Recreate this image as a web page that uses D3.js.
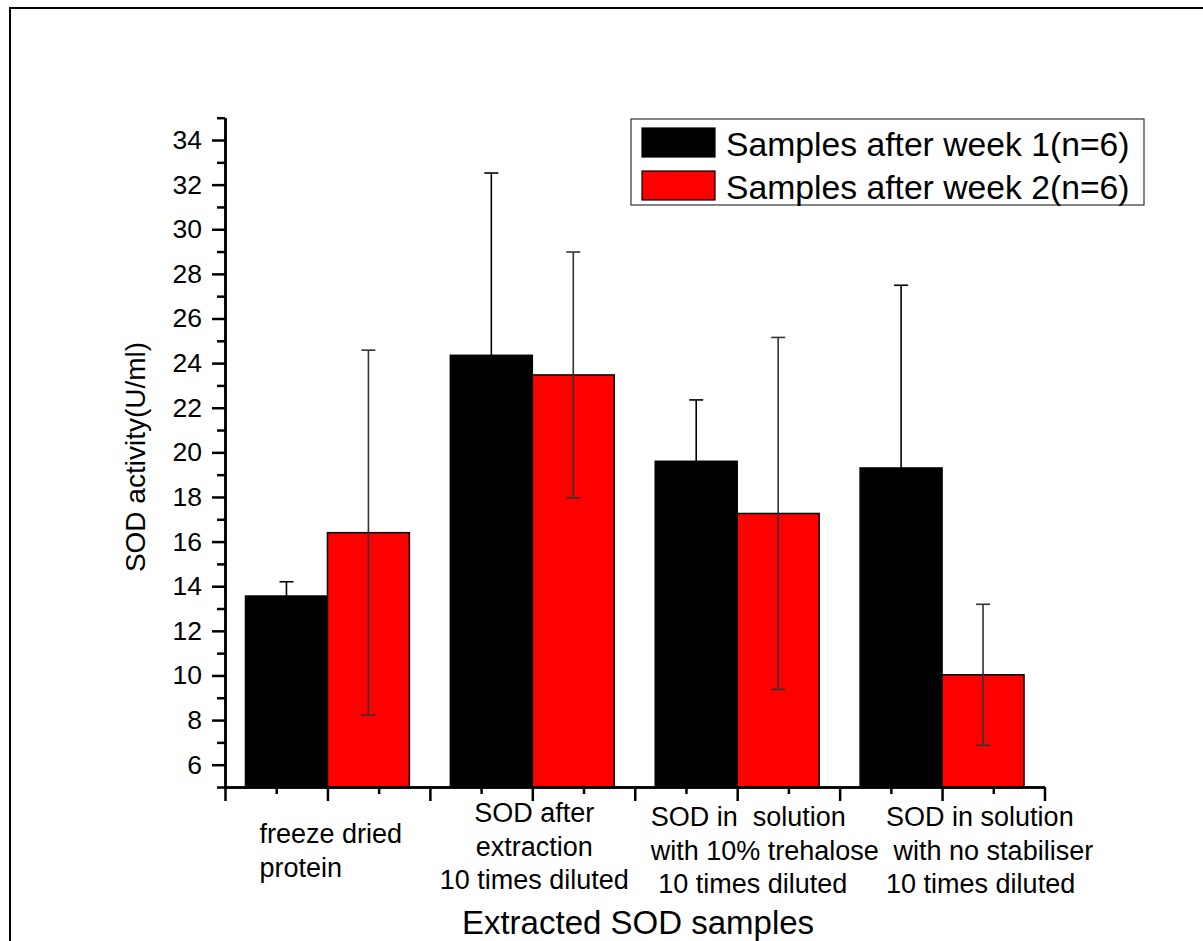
<!DOCTYPE html>
<html lang="en">
<head>
    <meta charset="UTF-8">
    <title>SOD activity</title>
    <script src="https://cdn.jsdelivr.net/npm/d3@7/dist/d3.min.js"></script>
    <style>
        body { margin: 0; background: #fff; }
        text { font-family: "Liberation Sans", Arial, sans-serif; fill: #000; }
    </style>
</head>
<body>
    <svg id="svg"></svg>
    <script>
        // data
        const categories = [
            ["freeze dried", "protein"],
            ["SOD after", "extraction", "10 times diluted"],
            ["SOD in  solution", "with 10% trehalose", " 10 times diluted"],
            ["SOD in solution", " with no stabiliser", "10 times diluted"]
        ];
        const seriesNames = ["Samples after week 1(n=6)", "Samples after week 2(n=6)"];
        const week1 = [13.56, 24.35, 19.6, 19.3];
        const week1Err = [0.64, 8.17, 2.75, 8.19];
        const week2 = [16.4, 23.47, 17.26, 10.03];
        const week2Err = [8.18, 5.51, 7.89, 3.16];
        const yTicks = d3.range(6, 35, 2);
        const yMinor = d3.range(5, 36, 2);
        const xMajor = d3.range(0.5, 4.51, 0.5);
        const xMinor = d3.range(0.75, 4.3, 0.5);

        const width = 1203;
        const height = 941;
        const colors = ["#000000", "#ff0000"];
        const errColors = ["#000000", "#333333"];
        const barW = 0.4;

        const x = d3.scaleLinear().domain([0.5, 4.5]).range([225, 1044.5]);
        const y = d3.scaleLinear().domain([5, 35]).range([787, 117.7]);

        const svg = d3.select("#svg")
            .attr("width", width)
            .attr("height", height);

        // outer frame
        svg.append("rect")
            .attr("x", 10).attr("y", 8)
            .attr("width", 1400).attr("height", 1200)
            .attr("fill", "none")
            .attr("stroke", "#000")
            .attr("stroke-width", 2);

        const series = [
            {name: seriesNames[0], values: week1, errs: week1Err, off: -barW},
            {name: seriesNames[1], values: week2, errs: week2Err, off: 0}
        ];

        const groups = svg.selectAll("g.series")
            .data(series)
            .enter()
            .append("g")
            .attr("class", "series");

        groups.selectAll("rect")
            .data(function(s, si) {
                return s.values.map(function(v, i) { return {v: v, i: i, s: s, si: si}; });
            })
            .enter()
            .append("rect")
            .attr("x", d => x(d.i + 1 + d.s.off))
            .attr("y", d => y(d.v))
            .attr("width", x(barW) - x(0))
            .attr("height", d => y(5) - y(d.v))
            .attr("fill", d => colors[d.si])
            .attr("stroke", "#000")
            .attr("stroke-width", 1.5);

        // error bars
        const errs = svg.selectAll("g.err")
            .data(series.flatMap(function(s, si) {
                return s.values.map(function(v, i) {
                    return {cx: i + 1 + s.off + barW / 2, v: v, e: s.errs[i], si: si};
                });
            }))
            .enter()
            .append("g")
            .attr("class", "err")
            .attr("stroke", d => errColors[d.si])
            .attr("stroke-width", 1.6);
        errs.append("line")
            .attr("x1", d => x(d.cx)).attr("x2", d => x(d.cx))
            .attr("y1", d => y(d.v + d.e)).attr("y2", d => y(d.v - d.e));
        errs.append("line")
            .attr("x1", d => x(d.cx) - 7).attr("x2", d => x(d.cx) + 7)
            .attr("y1", d => y(d.v + d.e)).attr("y2", d => y(d.v + d.e));
        errs.append("line")
            .attr("x1", d => x(d.cx) - 7).attr("x2", d => x(d.cx) + 7)
            .attr("y1", d => y(d.v - d.e)).attr("y2", d => y(d.v - d.e));

        // y axis
        const yAxis = svg.append("g")
            .attr("transform", "translate(" + x(0.5) + ",0)")
            .call(d3.axisLeft(y).tickValues(yTicks).tickSize(13).tickSizeOuter(0).tickPadding(10));
        svg.append("g")
            .attr("transform", "translate(" + x(0.5) + ",0)")
            .call(d3.axisLeft(y).tickValues(yMinor).tickSize(8).tickSizeOuter(0).tickFormat(""));

        // x axis
        svg.append("g")
            .attr("transform", "translate(0," + y(5) + ")")
            .call(d3.axisBottom(x).tickValues(xMajor).tickSize(14).tickSizeOuter(0).tickFormat(""));
        svg.append("g")
            .attr("transform", "translate(0," + y(5) + ")")
            .call(d3.axisBottom(x).tickValues(xMinor).tickSize(7).tickSizeOuter(0).tickFormat(""));

        svg.selectAll(".domain, .tick line")
            .attr("stroke", "#000")
            .attr("stroke-width", 2.5);
        yAxis.selectAll(".tick text")
            .style("font-size", "26.5px")
            .attr("fill", "#000");

        // category labels
        const labelAlign = [
            {anchor: "start", dx: -68, y0: 843},
            {anchor: "middle", dx: 2, y0: 822},
            {anchor: "start", dx: -86.5, y0: 826},
            {anchor: "start", dx: -56, y0: 826}
        ];
        svg.selectAll("text.cat")
            .data(categories)
            .enter()
            .append("text")
            .attr("class", "cat")
            .style("font-size", "27px")
            .style("white-space", "pre")
            .attr("text-anchor", (d, i) => labelAlign[i].anchor)
            .each(function(lines, i) {
                d3.select(this).selectAll("tspan")
                    .data(lines)
                    .enter()
                    .append("tspan")
                    .attr("x", x(i + 1) + labelAlign[i].dx)
                    .attr("y", (l, j) => labelAlign[i].y0 + j * 33.5)
                    .text(l => l);
            });

        // axis titles
        svg.append("text")
            .attr("x", 638).attr("y", 934)
            .attr("text-anchor", "middle")
            .style("font-size", "33px")
            .text("Extracted SOD samples");
        svg.append("text")
            .attr("transform", "translate(145,457) rotate(-90)")
            .attr("text-anchor", "middle")
            .style("font-size", "28px")
            .text("SOD activity(U/ml)");

        // legend
        const legend = svg.append("g");
        legend.append("rect")
            .attr("x", 631).attr("y", 119)
            .attr("width", 513).attr("height", 86)
            .attr("fill", "#fff")
            .attr("stroke", "#333")
            .attr("stroke-width", 1.2);
        const items = legend.selectAll("g.item")
            .data(seriesNames)
            .enter()
            .append("g")
            .attr("transform", (d, i) => "translate(642," + (128 + i * 43) + ")");
        items.append("rect")
            .attr("width", 73).attr("height", 29)
            .attr("fill", (d, i) => colors[i])
            .attr("stroke", "#000")
            .attr("stroke-width", 1.2);
        items.append("text")
            .attr("x", 84).attr("y", 28)
            .style("font-size", "33.7px")
            .text(d => d);
    </script>
</body>
</html>
